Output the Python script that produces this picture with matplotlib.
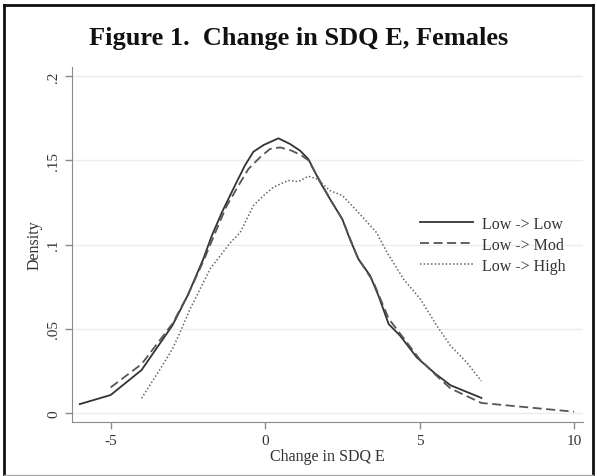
import matplotlib

matplotlib.use("Agg")
import matplotlib.pyplot as plt
from matplotlib.lines import Line2D

# kernel density estimates
low_low_x = [-6, -5, -4, -3, -2.5, -2, -1.73, -1.4, -1.03, -0.65, -0.38, -0.05, 0.43,
             0.81, 1.13, 1.4, 1.78, 2.1, 2.5, 2.75, 3.02, 3.4, 3.67, 4.0, 4.37, 4.91,
             5.5, 6.0, 7.0]
low_low_y = [0.0053, 0.0107, 0.0255, 0.052, 0.070, 0.0914, 0.105, 0.119, 0.133, 0.147,
             0.155, 0.159, 0.163, 0.1596, 0.1557, 0.1507, 0.137, 0.127, 0.115, 0.103,
             0.0914, 0.0815, 0.0696, 0.0528, 0.0459, 0.033, 0.0235, 0.0165, 0.0090]

low_mod_x = [-5, -4, -3, -2.5, -2, -1.5, -1.24, -0.86, -0.54, -0.16, 0.16, 0.49, 0.86,
             1.19, 1.4, 1.8, 2.1, 2.5, 3.0, 3.5, 4.0, 4.5, 5.0, 5.5, 6.0, 7.0, 10.0]
low_mod_y = [0.0152, 0.029, 0.053, 0.070, 0.090, 0.112, 0.123, 0.135, 0.1448, 0.1518,
             0.1567, 0.1576, 0.1557, 0.1527, 0.150, 0.137, 0.127, 0.115, 0.092, 0.078,
             0.056, 0.044, 0.032, 0.023, 0.0146, 0.006, 0.0008]

low_high_x = [-4, -3.4, -3.0, -2.75, -2.43, -2.2, -1.78, -1.13, -0.81, -0.38, -0.05,
              0.27, 0.75, 1.08, 1.4, 1.67, 2.1, 2.5, 2.97, 3.61, 3.94, 4.48, 5.02,
              5.56, 6.0, 6.53, 7.0]
low_high_y = [0.0087, 0.026, 0.038, 0.048, 0.0617, 0.070, 0.0855, 0.101, 0.107, 0.123,
              0.129, 0.134, 0.138, 0.1373, 0.1405, 0.139, 0.132, 0.129, 0.120, 0.107,
              0.0955, 0.0795, 0.0677, 0.0518, 0.040, 0.030, 0.019]

series_labels = ["Low -> Low", "Low -> Mod", "Low -> High"]
x_ticks = [-5, 0, 5, 10]
y_ticks = [0, 0.05, 0.1, 0.15, 0.2]
y_tick_labels = ["0", ".05", ".1", ".15", ".2"]

serif = ["Liberation Serif", "DejaVu Serif"]
plt.rcParams["font.family"] = serif

fig = plt.figure(figsize=(5.97, 4.77), dpi=100, facecolor="#ffffff")
ax = fig.add_axes([72 / 597, 1 - 423 / 477, (583 - 72) / 597, (423 - 68) / 477])

text_color = "#333333"
axis_gray = "#8a8a8a"
solid_style = dict(color="#333333", linewidth=1.3)
dash_style = dict(color="#555555", linewidth=1.3, linestyle=(0, (5, 2.5)))
dot_style = dict(color="#666666", linewidth=1.1, linestyle=(0, (1, 1.4)))

ax.plot(low_low_x, low_low_y, **solid_style)
ax.plot(low_mod_x, low_mod_y, **dash_style)
ax.plot(low_high_x, low_high_y, **dot_style)

ax.set_xlim(-6.25, 10.29)
ax.set_ylim(-0.0053, 0.2053)
ax.set_xticks(x_ticks)
ax.set_xticklabels([str(t) for t in x_ticks])
ax.set_yticks(y_ticks)
ax.set_yticklabels(y_tick_labels, rotation=90, va="center")

ax.grid(axis="y", color="#ececec", linewidth=1)
ax.grid(axis="x", visible=False)
ax.set_axisbelow(True)
for spine in ("top", "right"):
    ax.spines[spine].set_visible(False)
ax.spines["left"].set_color(axis_gray)
ax.spines["bottom"].set_color(axis_gray)
ax.tick_params(colors=axis_gray, labelcolor=text_color, labelsize=11, length=5, width=1)

ax.set_xlabel("Change in SDQ E", fontsize=11.5, color=text_color, labelpad=1)
ax.set_ylabel("Density", fontsize=11.5, color=text_color, labelpad=3)

handles = [Line2D([], [], **solid_style), Line2D([], [], **dash_style),
           Line2D([], [], **dot_style)]
ax.legend(handles, series_labels, loc="center left", bbox_to_anchor=(0.681, 0.499),
          frameon=False, fontsize=11.5, handlelength=3.3, handletextpad=0.6,
          labelspacing=0.3, borderpad=0, borderaxespad=0, labelcolor=text_color)

fig.text(299 / 597, 1 - 38 / 477, "Figure 1.  Change in SDQ E, Females", ha="center",
         va="center", fontsize=19, fontweight="bold", color="#111111")

# page frame around the figure
frame = [
    ([4, 4], [476, 6], "#111111", 2),
    ([4, 593], [6, 6], "#111111", 2),
    ([593, 593], [476, 6], "#111111", 2),
    ([4, 593], [476, 476], "#aaaaaa", 1),
]
for xs, ys, color, width in frame:
    fig.add_artist(Line2D([x / 597 for x in xs], [1 - y / 477 for y in ys], color=color,
                          linewidth=width, transform=fig.transFigure))

fig.savefig("out.png", dpi=100, facecolor=fig.get_facecolor())
